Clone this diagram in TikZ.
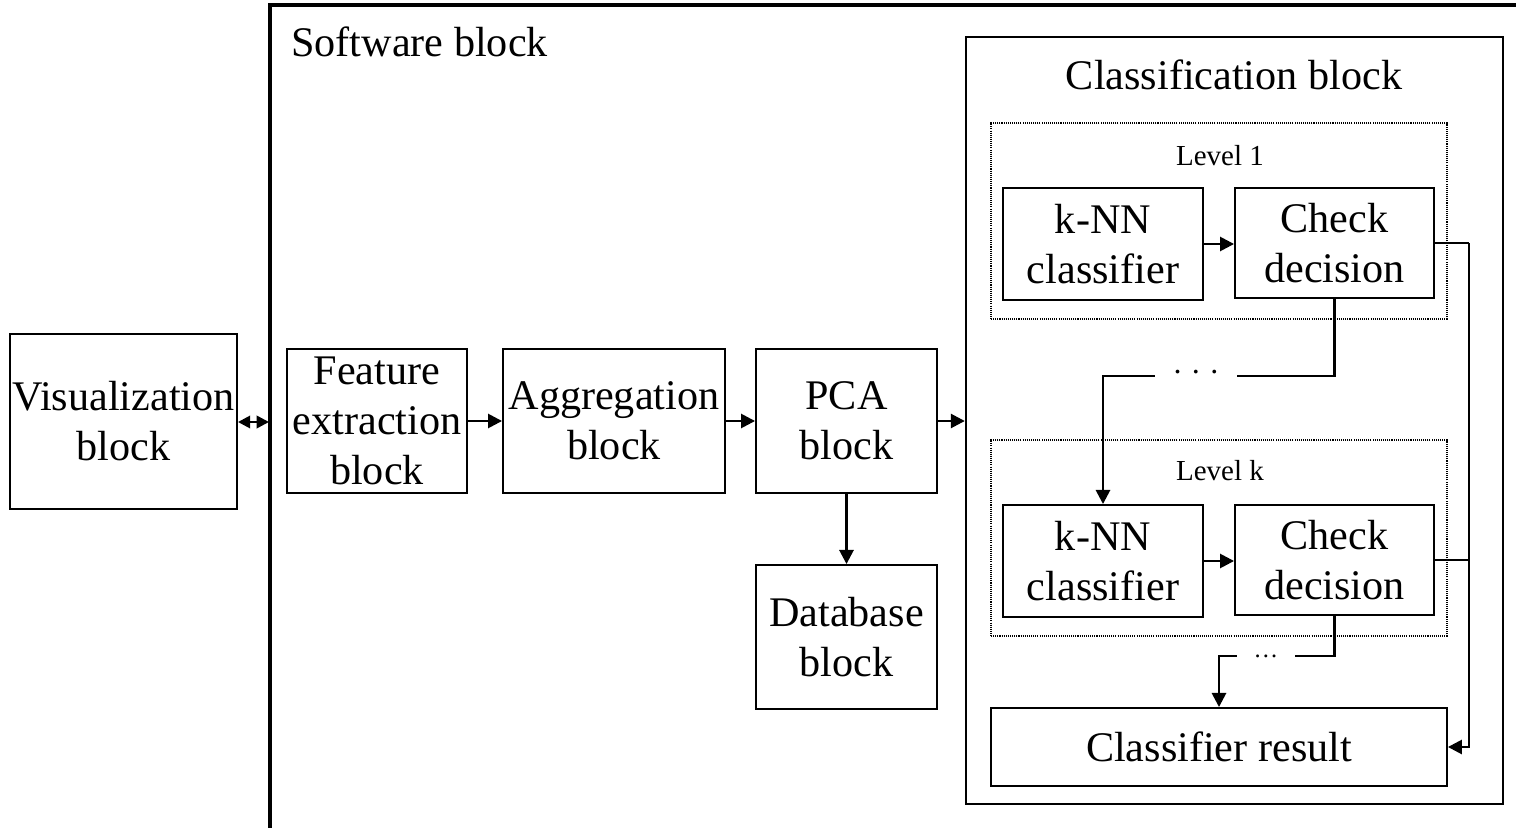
\documentclass[tikz,border=0pt]{standalone}
\usepackage{fontspec}
\setmainfont{Liberation Serif}
\usetikzlibrary{arrows.meta}
\begin{document}
\begin{tikzpicture}[x=0.02cm,y=-0.02cm,
  box/.style={draw, line width=1.1pt, inner sep=0pt, align=center,
    font=\fontsize{24}{28.5}\selectfont},
  lvlbox/.style={draw, line width=1pt, dash pattern=on 0.6pt off 0.6pt, inner sep=0pt},
  conn/.style={line width=1.5pt},
  arr/.style={line width=1.5pt, -{Triangle[length=8pt,width=8pt]}},
  darr/.style={line width=1.5pt, {Triangle[length=7pt,width=7pt]}-{Triangle[length=7pt,width=7pt]}},
  big/.style={font=\fontsize{24}{28.5}\selectfont, inner sep=0pt},
  small/.style={font=\fontsize{16.5}{20}\selectfont, inner sep=0pt}]
\useasboundingbox (0,0) rectangle (1516,828);

% software block border
\coordinate (swb) at (270,830);
\coordinate (swt) at (1520,5);
\draw[line width=2.6pt] (swb) |- (swt);
\node[big, anchor=west] (swlabel) at (291,42) {Software block};

% left chain
\node[box, minimum width=4.54cm, minimum height=3.5cm] (vis) at (123.5,421.5) {Visualization\\block};
\node[box, minimum width=3.6cm, minimum height=2.88cm] (feat) at (377,421) {Feature\\extraction\\block};
\node[box, minimum width=4.44cm, minimum height=2.88cm] (agg) at (614,421) {Aggregation\\block};
\node[box, minimum width=3.62cm, minimum height=2.88cm] (pca) at (846.5,421) {PCA\\block};
\node[box, minimum width=3.62cm, minimum height=2.88cm] (db) at (846.5,637) {Database\\block};

% classification container
\node[draw, line width=1.4pt, minimum width=10.74cm, minimum height=15.34cm, inner sep=0pt] (cls) at (1234.5,420.5) {};
\node[big] (clslabel) at (1234,75) {Classification block};

% levels
\node[lvlbox, minimum width=9.12cm, minimum height=3.92cm] (lvl1) at (1219,221) {};
\node[small] (lvl1label) at (1220,156) {Level 1};
\node[box, minimum width=4cm, minimum height=2.24cm] (k1) at (1103,244) {k-NN\\classifier};
\node[box, minimum width=3.98cm, minimum height=2.2cm] (c1) at (1334.5,243) {Check\\decision};

\node[lvlbox, minimum width=9.12cm, minimum height=3.92cm] (lvlk) at (1219,538) {};
\node[small] (lvlklabel) at (1220,471) {Level k};
\node[box, minimum width=4cm, minimum height=2.24cm] (k2) at (1103,561) {k-NN\\classifier};
\node[box, minimum width=3.98cm, minimum height=2.2cm] (c2) at (1334.5,560) {Check\\decision};

\node[box, minimum width=9.12cm, minimum height=1.56cm] (res) at (1219,747) {Classifier result};

% dots
\node[font=\fontsize{18}{20}\selectfont, inner sep=0pt, minimum width=1.64cm, minimum height=0.2cm] (dots1) at (1196,376) {· · ·};
\node[font=\fontsize{14}{16}\selectfont, inner sep=0pt, minimum width=1.16cm, minimum height=0.2cm] (dots2) at (1266,656) {…};

% connectors left part
\coordinate (swl) at (269,422);
\draw[darr] (vis.east |- swl) -- (swl);
\draw[arr] (feat.east) -- (agg.west);
\draw[arr] (agg.east) -- (pca.west);
\draw[arr] (pca.east) -- (pca.east -| cls.west);
\draw[arr] (pca.south) -- (db.north);

% classification internals
\draw[arr] (k1.east) -- (k1.east -| c1.west);
\draw[arr] (k2.east) -- (k2.east -| c2.west);
\draw[conn] (c1.south) |- (dots1.east);
\draw[arr] (dots1.west) -| (k2.north);
\draw[conn] (c2.south) |- (dots2.east);
\draw[arr] (dots2.west) -| (res.north);

\coordinate (r1) at (1469,243);
\draw[conn] (c1.east) -- (r1);
\draw[arr] (r1) |- (res.east);
\draw[conn] (c2.east) -- (c2.east -| r1);
\end{tikzpicture}
\end{document}
